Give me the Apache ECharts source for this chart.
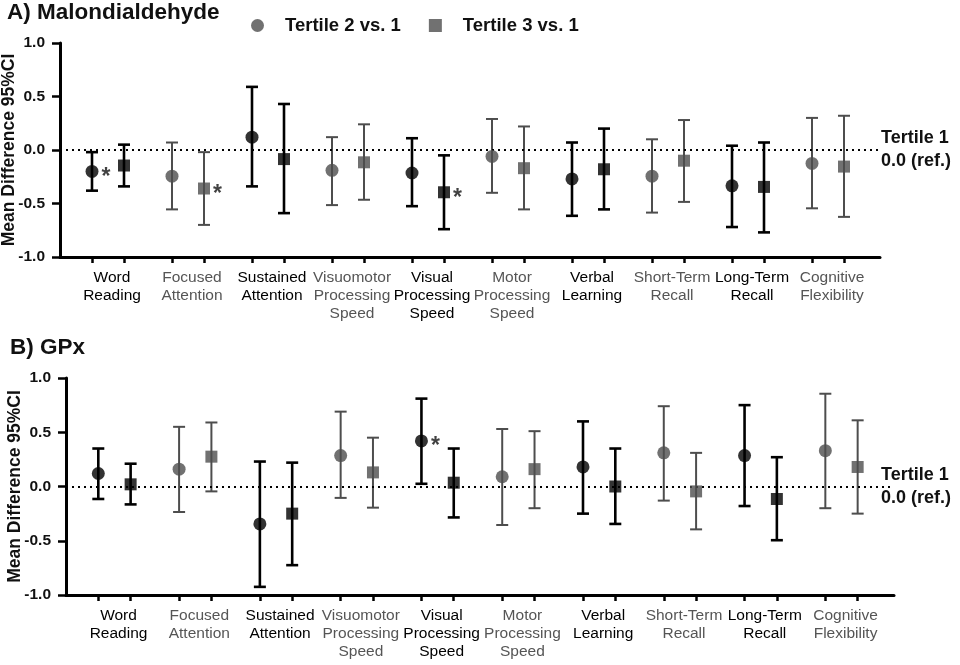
<!DOCTYPE html>
<html>
<head>
<meta charset="utf-8">
<script src="https://cdn.jsdelivr.net/npm/echarts@6/dist/echarts.min.js"></script>
<style>
html,body{margin:0;padding:0;background:#fff;}
#chart{width:960px;height:665px;}
</style>
</head>
<body>
<div id="chart"></div>
<script>
// ---------- data ----------
const categories = ['Word\nReading', 'Focused\nAttention', 'Sustained\nAttention', 'Visuomotor\nProcessing\nSpeed', 'Visual\nProcessing\nSpeed', 'Motor\nProcessing\nSpeed', 'Verbal\nLearning', 'Short-Term\nRecall', 'Long-Term\nRecall', 'Cognitive\nFlexibility'];
const seriesNames = ['Tertile 2 vs. 1', 'Tertile 3 vs. 1'];
const yTicks = [-1.0, -0.5, 0.0, 0.5, 1.0];
const refLabel = 'Tertile 1\n0.0 (ref.)';
const titles = ['A) Malondialdehyde', 'B) GPx'];

// Panel A: Malondialdehyde
const mdaT2Mean = [-0.20, -0.245, 0.12, -0.19, -0.215, -0.06, -0.27, -0.245, -0.335, -0.125];
const mdaT2Low  = [-0.38, -0.555, -0.34, -0.515, -0.525, -0.40, -0.615, -0.585, -0.72, -0.545];
const mdaT2High = [-0.02, 0.07, 0.59, 0.12, 0.11, 0.29, 0.07, 0.10, 0.04, 0.30];
const mdaT3Mean = [-0.145, -0.36, -0.085, -0.115, -0.395, -0.17, -0.18, -0.10, -0.345, -0.155];
const mdaT3Low  = [-0.34, -0.70, -0.59, -0.465, -0.74, -0.555, -0.555, -0.485, -0.77, -0.625];
const mdaT3High = [0.05, -0.02, 0.43, 0.24, -0.05, 0.22, 0.20, 0.28, 0.07, 0.32];
const mdaT2Sig  = [1, 0, 0, 0, 0, 0, 0, 0, 0, 0];
const mdaT3Sig  = [0, 1, 0, 0, 1, 0, 0, 0, 0, 0];

// Panel B: GPx
const gpxT2Mean = [0.12, 0.16, -0.345, 0.285, 0.42, 0.09, 0.18, 0.31, 0.285, 0.33];
const gpxT2Low  = [-0.115, -0.235, -0.925, -0.105, 0.025, -0.355, -0.25, -0.13, -0.18, -0.20];
const gpxT2High = [0.35, 0.55, 0.23, 0.69, 0.81, 0.53, 0.60, 0.74, 0.75, 0.855];
const gpxT3Mean = [0.02, 0.275, -0.25, 0.13, 0.035, 0.16, 0.0, -0.045, -0.115, 0.18];
const gpxT3Low  = [-0.165, -0.045, -0.725, -0.195, -0.285, -0.20, -0.345, -0.395, -0.495, -0.25];
const gpxT3High = [0.21, 0.59, 0.22, 0.45, 0.35, 0.51, 0.35, 0.31, 0.27, 0.61];
const gpxT2Sig  = [0, 0, 0, 0, 1, 0, 0, 0, 0, 0];
const gpxT3Sig  = [0, 0, 0, 0, 0, 0, 0, 0, 0, 0];

// ---------- styling ----------
const FONT = 'Arial, "Liberation Sans", Helvetica, sans-serif';
const BLACK = '#000000';
const GRAY = '#4d4d4d';
const GRAY_TEXT = '#555555';
const OFF = 0.2;
const colorOf = i => (i % 2 === 0 ? BLACK : GRAY);

const tickPositions = [];
categories.forEach((c, i) => { tickPositions.push(i - OFF, i + OFF); });
const labelPositions = categories.map((c, i) => i + 0.05);

function xAxisFor(gi) {
  return {
    gridIndex: gi, type: 'value', min: -0.6, max: 9.65,
    splitLine: {show: false},
    axisLine: {show: true, onZero: false, lineStyle: {color: '#000', width: 3}},
    axisTick: {show: true, customValues: tickPositions, length: 6, lineStyle: {color: '#000', width: 2.5}},
    axisLabel: {
      customValues: labelPositions, margin: 12,
      formatter: v => {
        const i = Math.round(v);
        const tag = i % 2 === 0 ? 'b' : 'g';
        return categories[i].split('\n').map(l => '{' + tag + '|' + l + '}').join('\n');
      },
      rich: {
        b: {color: '#000', fontSize: 15.5, lineHeight: 18, fontFamily: FONT},
        g: {color: GRAY_TEXT, fontSize: 15.5, lineHeight: 18, fontFamily: FONT}
      }
    }
  };
}
function yAxisFor(gi) {
  return {
    gridIndex: gi, type: 'value', min: yTicks[0], max: yTicks[yTicks.length - 1], interval: 0.5,
    splitLine: {show: false},
    axisLine: {show: true, onZero: false, lineStyle: {color: '#000', width: 3}},
    axisTick: {show: true, length: 8, lineStyle: {color: '#000', width: 2.5}},
    axisLabel: {margin: 15, formatter: v => v.toFixed(1), color: '#111', fontSize: 15.5, fontWeight: 'bold', fontFamily: FONT},
    name: 'Mean Difference 95%CI', nameLocation: 'middle', nameGap: 42, nameRotate: 90, nameMoveOverlap: false,
    nameTextStyle: {color: '#111', fontSize: 17.5, fontWeight: 'bold', fontFamily: FONT}
  };
}

function errorSeries(gi, offset, means, lows, highs) {
  return {
    type: 'custom', xAxisIndex: gi, yAxisIndex: gi, z: 2, silent: true,
    data: means.map((m, i) => [i + offset, lows[i], highs[i], i]),
    renderItem: (params, api) => {
      const x = api.value(0), lo = api.value(1), hi = api.value(2), ci = api.value(3);
      const top = api.coord([x, hi]), bot = api.coord([x, lo]);
      const col = colorOf(ci);
      const w = ci % 2 === 0 ? 2.6 : 2;
      const cw = 6;
      const style = {stroke: col, lineWidth: w};
      return {type: 'group', children: [
        {type: 'line', shape: {x1: top[0], y1: top[1], x2: bot[0], y2: bot[1]}, style},
        {type: 'line', shape: {x1: top[0] - cw, y1: top[1], x2: top[0] + cw, y2: top[1]}, style},
        {type: 'line', shape: {x1: bot[0] - cw, y1: bot[1], x2: bot[0] + cw, y2: bot[1]}, style}
      ]};
    }
  };
}

function pointSeries(gi, name, offset, means, sig, symbol, size, refDist, refPad) {
  const s = {
    type: 'scatter', name, xAxisIndex: gi, yAxisIndex: gi, z: 5, symbol, symbolSize: size,
    data: means.map((m, i) => ({
      value: [i + offset, m],
      itemStyle: {color: colorOf(i)},
      label: sig[i] ? {show: true, formatter: '*', position: 'right', distance: 3, offset: [0, 6],
        fontSize: 23, fontWeight: 'bold', color: '#111', fontFamily: FONT} : {show: false}
    }))
  };
  if (refDist !== undefined) {
    s.markLine = {
      silent: true, symbol: 'none', animation: false,
      lineStyle: {type: [2, 4], width: 2, color: '#000'},
      label: {show: true, position: 'end', formatter: refLabel, distance: refDist,
        padding: refPad, color: '#111', fontSize: 18, fontWeight: 'bold', lineHeight: 23, fontFamily: FONT, align: 'left'},
      data: [{yAxis: 0}]
    };
  }
  return s;
}

const option = {
  animation: false,
  backgroundColor: '#fff',
  textStyle: {fontFamily: FONT},
  title: [
    {text: titles[0], left: 7, top: 1, padding: 0, textStyle: {fontSize: 22.5, fontWeight: 'bold', color: '#111', fontFamily: FONT}},
    {text: titles[1], left: 10, top: 336, padding: 0, textStyle: {fontSize: 22.5, fontWeight: 'bold', color: '#111', fontFamily: FONT}}
  ],
  legend: {
    left: 246, top: 11, itemWidth: 13, itemHeight: 13, itemGap: 28, selectedMode: false,
    textStyle: {fontSize: 18.5, fontWeight: 'bold', color: '#111', fontFamily: FONT, padding: [0, 0, 0, 16]},
    data: [
      {name: seriesNames[0], icon: 'circle', itemStyle: {color: GRAY}},
      {name: seriesNames[1], icon: 'rect', itemStyle: {color: GRAY}}
    ]
  },
  grid: [
    {left: 60, right: 80, top: 43, height: 214, outerBoundsMode: 'none', containLabel: false},
    {left: 66, right: 66, top: 378, height: 217, outerBoundsMode: 'none', containLabel: false}
  ],
  xAxis: [xAxisFor(0), xAxisFor(1)],
  yAxis: [yAxisFor(0), yAxisFor(1)],
  series: [
    errorSeries(0, -OFF, mdaT2Mean, mdaT2Low, mdaT2High),
    errorSeries(0, OFF, mdaT3Mean, mdaT3Low, mdaT3High),
    pointSeries(0, seriesNames[0], -OFF, mdaT2Mean, mdaT2Sig, 'circle', 13, 1, [17, 0, 0, 0]),
    pointSeries(0, seriesNames[1], OFF, mdaT3Mean, mdaT3Sig, 'rect', 12),
    errorSeries(1, -OFF, gpxT2Mean, gpxT2Low, gpxT2High),
    errorSeries(1, OFF, gpxT3Mean, gpxT3Low, gpxT3High),
    pointSeries(1, seriesNames[0], -OFF, gpxT2Mean, gpxT2Sig, 'circle', 13, -13, [13, 0, 0, 0]),
    pointSeries(1, seriesNames[1], OFF, gpxT3Mean, gpxT3Sig, 'rect', 12)
  ]
};

const chart = echarts.init(document.getElementById('chart'), null, {renderer: 'canvas'});
chart.setOption(option);
</script>
</body>
</html>
